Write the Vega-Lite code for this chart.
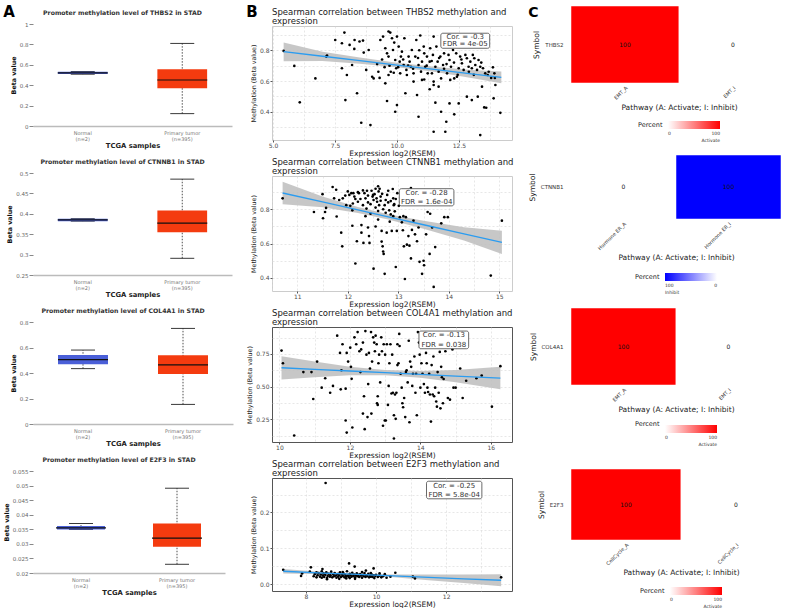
{
  "$schema": "https://vega.github.io/schema/vega-lite/v6.json",
  "background": "#ffffff",
  "padding": {"left": 3, "top": 5, "right": 0, "bottom": 0},
  "config": {
    "font": "DejaVu Sans",
    "view": {"stroke": null},
    "axis": {"labelOverlap": false},
    "legend": {"gradientStrokeWidth": 0, "labelColor": "#333333", "titleColor": "#222222", "layout": {"bottom": {"anchor": "middle"}}}
  },
  "datasets": {
    "boxA": [
      {"gene": "THBS2", "group": "Normal|(n=2)", "min": 0.508, "q1": 0.51, "median": 0.52, "q3": 0.532, "max": 0.535},
      {"gene": "THBS2", "group": "Primary tumor|(n=395)", "min": 0.121, "q1": 0.369, "median": 0.451, "q3": 0.556, "max": 0.81},
      {"gene": "CTNNB1", "group": "Normal|(n=2)", "min": 0.382, "q1": 0.382, "median": 0.385, "q3": 0.388, "max": 0.388},
      {"gene": "CTNNB1", "group": "Primary tumor|(n=395)", "min": 0.291, "q1": 0.355, "median": 0.377, "q3": 0.408, "max": 0.485},
      {"gene": "COL4A1", "group": "Normal|(n=2)", "min": 0.434, "q1": 0.468, "median": 0.505, "q3": 0.541, "max": 0.58},
      {"gene": "COL4A1", "group": "Primary tumor|(n=395)", "min": 0.154, "q1": 0.392, "median": 0.463, "q3": 0.539, "max": 0.75},
      {"gene": "E2F3", "group": "Normal|(n=2)", "min": 0.0349, "q1": 0.0349, "median": 0.0355, "q3": 0.0361, "max": 0.037},
      {"gene": "E2F3", "group": "Primary tumor|(n=395)", "min": 0.023, "q1": 0.029, "median": 0.032, "q3": 0.037, "max": 0.0491}
    ],
    "heat": [
      {"symbol": "THBS2", "pathway": "EMT_A", "percent": 100},
      {"symbol": "THBS2", "pathway": "EMT_I", "percent": 0},
      {"symbol": "CTNNB1", "pathway": "Hormone ER_A", "percent": 0},
      {"symbol": "CTNNB1", "pathway": "Hormone ER_I", "percent": 100},
      {"symbol": "COL4A1", "pathway": "EMT_A", "percent": 100},
      {"symbol": "COL4A1", "pathway": "EMT_I", "percent": 0},
      {"symbol": "E2F3", "pathway": "CellCycle_A", "percent": 100},
      {"symbol": "E2F3", "pathway": "CellCycle_I", "percent": 0}
    ],
    "fit1": [
      {"x": 5.43, "fit": 0.791, "lo": 0.728, "hi": 0.85},
      {"x": 7.0, "fit": 0.761, "lo": 0.731, "hi": 0.79},
      {"x": 8.5, "fit": 0.733, "lo": 0.713, "hi": 0.753},
      {"x": 10.0, "fit": 0.704, "lo": 0.69, "hi": 0.718},
      {"x": 11.5, "fit": 0.676, "lo": 0.66, "hi": 0.692},
      {"x": 13.0, "fit": 0.647, "lo": 0.62, "hi": 0.672},
      {"x": 14.21, "fit": 0.624, "lo": 0.585, "hi": 0.662}
    ],
    "fit2": [
      {"x": 10.71, "fit": 0.895, "lo": 0.83, "hi": 0.96},
      {"x": 11.5, "fit": 0.843, "lo": 0.812, "hi": 0.874},
      {"x": 12.2, "fit": 0.796, "lo": 0.779, "hi": 0.813},
      {"x": 12.8, "fit": 0.756, "lo": 0.741, "hi": 0.771},
      {"x": 13.5, "fit": 0.71, "lo": 0.687, "hi": 0.733},
      {"x": 14.3, "fit": 0.657, "lo": 0.618, "hi": 0.696},
      {"x": 15.05, "fit": 0.607, "lo": 0.54, "hi": 0.675}
    ],
    "fit3": [
      {"x": 10.06, "fit": 0.645, "lo": 0.556, "hi": 0.733},
      {"x": 11.0, "fit": 0.633, "lo": 0.573, "hi": 0.693},
      {"x": 12.0, "fit": 0.62, "lo": 0.588, "hi": 0.652},
      {"x": 13.0, "fit": 0.607, "lo": 0.587, "hi": 0.627},
      {"x": 14.0, "fit": 0.594, "lo": 0.568, "hi": 0.62},
      {"x": 15.0, "fit": 0.581, "lo": 0.535, "hi": 0.627},
      {"x": 16.27, "fit": 0.565, "lo": 0.48, "hi": 0.652}
    ],
    "fit4": [
      {"x": 7.35, "fit": 0.036, "lo": 0.03, "hi": 0.042},
      {"x": 8.5, "fit": 0.031, "lo": 0.028, "hi": 0.034},
      {"x": 9.3, "fit": 0.028, "lo": 0.026, "hi": 0.03},
      {"x": 10.5, "fit": 0.023, "lo": 0.019, "hi": 0.027},
      {"x": 11.5, "fit": 0.019, "lo": 0.011, "hi": 0.027},
      {"x": 12.5, "fit": 0.015, "lo": 0.003, "hi": 0.027},
      {"x": 13.57, "fit": 0.011, "lo": -0.006, "hi": 0.028}
    ],
    "pts1": [
      {"x": 5.43, "y": 0.796}, {"x": 5.86, "y": 0.698}, {"x": 6.08, "y": 0.461}, {"x": 6.71, "y": 0.617}, {"x": 7.15, "y": 0.759}, {"x": 7.18, "y": 0.766},
      {"x": 7.51, "y": 0.867}, {"x": 7.78, "y": 0.846}, {"x": 7.88, "y": 0.915}, {"x": 7.78, "y": 0.683}, {"x": 7.98, "y": 0.639}, {"x": 7.92, "y": 0.476},
      {"x": 8.09, "y": 0.835}, {"x": 8.19, "y": 0.704}, {"x": 8.28, "y": 0.809}, {"x": 8.39, "y": 0.52}, {"x": 8.29, "y": 0.867}, {"x": 8.49, "y": 0.857},
      {"x": 8.63, "y": 0.863}, {"x": 8.66, "y": 0.785}, {"x": 8.56, "y": 0.328}, {"x": 8.76, "y": 0.672}, {"x": 8.86, "y": 0.802}, {"x": 8.93, "y": 0.313},
      {"x": 9.0, "y": 0.628}, {"x": 9.06, "y": 0.617}, {"x": 9.33, "y": 0.867}, {"x": 9.44, "y": 0.889}, {"x": 9.53, "y": 0.813}, {"x": 9.6, "y": 0.78},
      {"x": 9.66, "y": 0.759}, {"x": 9.73, "y": 0.915}, {"x": 9.8, "y": 0.878}, {"x": 9.84, "y": 0.802}, {"x": 9.89, "y": 0.85}, {"x": 9.93, "y": 0.737},
      {"x": 9.97, "y": 0.683}, {"x": 10.0, "y": 0.889}, {"x": 10.07, "y": 0.824}, {"x": 10.11, "y": 0.726}, {"x": 10.13, "y": 0.65}, {"x": 10.16, "y": 0.759},
      {"x": 10.2, "y": 0.791}, {"x": 10.27, "y": 0.704}, {"x": 10.3, "y": 0.878}, {"x": 10.38, "y": 0.672}, {"x": 10.4, "y": 0.639}, {"x": 10.47, "y": 0.759},
      {"x": 10.51, "y": 0.726}, {"x": 10.56, "y": 0.693}, {"x": 10.6, "y": 0.802}, {"x": 10.67, "y": 0.65}, {"x": 10.74, "y": 0.759}, {"x": 10.78, "y": 0.867},
      {"x": 10.87, "y": 0.704}, {"x": 10.94, "y": 0.896}, {"x": 10.97, "y": 0.661}, {"x": 11.01, "y": 0.726}, {"x": 11.08, "y": 0.824}, {"x": 11.1, "y": 0.78},
      {"x": 11.14, "y": 0.693}, {"x": 11.21, "y": 0.759}, {"x": 11.24, "y": 0.65}, {"x": 11.32, "y": 0.726}, {"x": 11.34, "y": 0.813}, {"x": 11.41, "y": 0.65},
      {"x": 11.45, "y": 0.77}, {"x": 11.48, "y": 0.889}, {"x": 11.55, "y": 0.693}, {"x": 11.59, "y": 0.824}, {"x": 11.64, "y": 0.726}, {"x": 11.68, "y": 0.661},
      {"x": 11.75, "y": 0.759}, {"x": 11.78, "y": 0.617}, {"x": 11.86, "y": 0.704}, {"x": 11.95, "y": 0.824}, {"x": 12.02, "y": 0.65}, {"x": 12.08, "y": 0.77},
      {"x": 12.12, "y": 0.737}, {"x": 12.18, "y": 0.693}, {"x": 12.26, "y": 0.802}, {"x": 12.31, "y": 0.617}, {"x": 12.39, "y": 0.78}, {"x": 12.42, "y": 0.628},
      {"x": 12.49, "y": 0.683}, {"x": 12.55, "y": 0.759}, {"x": 12.62, "y": 0.715}, {"x": 12.69, "y": 0.672}, {"x": 12.76, "y": 0.77}, {"x": 12.82, "y": 0.748},
      {"x": 12.89, "y": 0.693}, {"x": 12.96, "y": 0.726}, {"x": 13.02, "y": 0.683}, {"x": 13.06, "y": 0.77}, {"x": 13.12, "y": 0.748}, {"x": 13.16, "y": 0.704},
      {"x": 13.23, "y": 0.672}, {"x": 13.29, "y": 0.737}, {"x": 13.36, "y": 0.693}, {"x": 13.47, "y": 0.683}, {"x": 13.56, "y": 0.65}, {"x": 13.66, "y": 0.639},
      {"x": 13.87, "y": 0.689}, {"x": 13.93, "y": 0.65}, {"x": 13.97, "y": 0.574},
      {"x": 9.53, "y": 0.585}, {"x": 9.6, "y": 0.47}, {"x": 10.0, "y": 0.443}, {"x": 9.93, "y": 0.4}, {"x": 10.34, "y": 0.52}, {"x": 10.81, "y": 0.509},
      {"x": 10.87, "y": 0.367}, {"x": 11.32, "y": 0.546}, {"x": 11.48, "y": 0.574}, {"x": 11.55, "y": 0.459}, {"x": 11.48, "y": 0.27}, {"x": 11.68, "y": 0.563},
      {"x": 11.78, "y": 0.4}, {"x": 11.99, "y": 0.335}, {"x": 11.95, "y": 0.27}, {"x": 12.12, "y": 0.454}, {"x": 12.31, "y": 0.383}, {"x": 12.49, "y": 0.454},
      {"x": 12.82, "y": 0.498}, {"x": 13.02, "y": 0.476}, {"x": 13.26, "y": 0.498}, {"x": 13.43, "y": 0.563}, {"x": 13.52, "y": 0.428}, {"x": 13.6, "y": 0.426},
      {"x": 13.36, "y": 0.248}, {"x": 13.9, "y": 0.487}, {"x": 14.17, "y": 0.393},
      {"x": 9.66, "y": 0.922}, {"x": 9.66, "y": 0.639}, {"x": 9.87, "y": 0.654}, {"x": 10.67, "y": 0.596}, {"x": 11.01, "y": 0.607}, {"x": 11.1, "y": 0.61},
      {"x": 11.48, "y": 0.596}, {"x": 12.15, "y": 0.607}, {"x": 9.2, "y": 0.71}, {"x": 9.25, "y": 0.66}, {"x": 9.4, "y": 0.74}, {"x": 9.5, "y": 0.69},
      {"x": 9.7, "y": 0.7}, {"x": 9.75, "y": 0.66}, {"x": 10.05, "y": 0.69}, {"x": 10.25, "y": 0.74}, {"x": 10.45, "y": 0.7}, {"x": 10.65, "y": 0.68},
      {"x": 10.85, "y": 0.75}, {"x": 11.2, "y": 0.7}, {"x": 11.4, "y": 0.73}, {"x": 11.7, "y": 0.75}, {"x": 11.9, "y": 0.68}, {"x": 12.0, "y": 0.71},
      {"x": 12.3, "y": 0.72}, {"x": 12.6, "y": 0.74}, {"x": 12.9, "y": 0.66}, {"x": 13.1, "y": 0.64}, {"x": 13.4, "y": 0.72}, {"x": 13.7, "y": 0.66},
      {"x": 13.8, "y": 0.62}, {"x": 12.45, "y": 0.64}, {"x": 11.9, "y": 0.78}, {"x": 10.9, "y": 0.8}, {"x": 9.3, "y": 0.62}, {"x": 13.95, "y": 0.62}
    ],
    "pts2": [
      {"x": 10.71, "y": 0.864}, {"x": 11.33, "y": 0.784}, {"x": 11.5, "y": 0.888}, {"x": 11.51, "y": 0.748}, {"x": 11.55, "y": 0.784}, {"x": 11.57, "y": 0.808},
      {"x": 11.7, "y": 0.93}, {"x": 11.73, "y": 0.864}, {"x": 11.77, "y": 0.914}, {"x": 11.78, "y": 0.758}, {"x": 11.83, "y": 0.854}, {"x": 11.87, "y": 0.664},
      {"x": 11.89, "y": 0.584}, {"x": 11.9, "y": 0.864}, {"x": 11.97, "y": 0.824}, {"x": 12.0, "y": 0.904}, {"x": 12.03, "y": 0.884}, {"x": 12.07, "y": 0.894},
      {"x": 12.09, "y": 0.794}, {"x": 12.1, "y": 0.834}, {"x": 12.11, "y": 0.894}, {"x": 12.13, "y": 0.874}, {"x": 12.09, "y": 0.704}, {"x": 12.15, "y": 0.484},
      {"x": 12.18, "y": 0.614}, {"x": 12.2, "y": 0.844}, {"x": 12.22, "y": 0.894}, {"x": 12.27, "y": 0.708}, {"x": 12.27, "y": 0.664}, {"x": 12.3, "y": 0.824},
      {"x": 12.31, "y": 0.604}, {"x": 12.33, "y": 0.894}, {"x": 12.35, "y": 0.864}, {"x": 12.37, "y": 0.804}, {"x": 12.38, "y": 0.908}, {"x": 12.4, "y": 0.694},
      {"x": 12.42, "y": 0.644}, {"x": 12.43, "y": 0.604}, {"x": 12.45, "y": 0.774}, {"x": 12.47, "y": 0.908}, {"x": 12.49, "y": 0.874}, {"x": 12.5, "y": 0.884},
      {"x": 12.51, "y": 0.854}, {"x": 12.51, "y": 0.454}, {"x": 12.53, "y": 0.888}, {"x": 12.55, "y": 0.92}, {"x": 12.57, "y": 0.864}, {"x": 12.58, "y": 0.844},
      {"x": 12.6, "y": 0.934}, {"x": 12.61, "y": 0.904}, {"x": 12.62, "y": 0.824}, {"x": 12.63, "y": 0.92}, {"x": 12.65, "y": 0.874}, {"x": 12.67, "y": 0.674},
      {"x": 12.67, "y": 0.612}, {"x": 12.69, "y": 0.584}, {"x": 12.7, "y": 0.554}, {"x": 12.71, "y": 0.54}, {"x": 12.73, "y": 0.424}, {"x": 12.73, "y": 0.824},
      {"x": 12.75, "y": 0.854}, {"x": 12.77, "y": 0.664}, {"x": 12.78, "y": 0.884}, {"x": 12.8, "y": 0.908}, {"x": 12.82, "y": 0.794}, {"x": 12.83, "y": 0.728},
      {"x": 12.85, "y": 0.848}, {"x": 12.87, "y": 0.674}, {"x": 12.89, "y": 0.918}, {"x": 12.9, "y": 0.864}, {"x": 12.91, "y": 0.824}, {"x": 12.93, "y": 0.788},
      {"x": 12.95, "y": 0.464}, {"x": 12.97, "y": 0.674}, {"x": 12.98, "y": 0.894}, {"x": 13.01, "y": 0.82}, {"x": 13.03, "y": 0.754}, {"x": 13.07, "y": 0.724},
      {"x": 13.09, "y": 0.678}, {"x": 13.11, "y": 0.584}, {"x": 13.13, "y": 0.394}, {"x": 13.15, "y": 0.754}, {"x": 13.17, "y": 0.594}, {"x": 13.2, "y": 0.644},
      {"x": 13.22, "y": 0.588}, {"x": 13.25, "y": 0.924}, {"x": 13.25, "y": 0.514}, {"x": 13.27, "y": 0.68}, {"x": 13.3, "y": 0.734}, {"x": 13.33, "y": 0.654},
      {"x": 13.37, "y": 0.614}, {"x": 13.4, "y": 0.694}, {"x": 13.42, "y": 0.494}, {"x": 13.47, "y": 0.424}, {"x": 13.5, "y": 0.5}, {"x": 13.51, "y": 0.474},
      {"x": 13.55, "y": 0.654}, {"x": 13.58, "y": 0.784}, {"x": 13.63, "y": 0.774}, {"x": 13.62, "y": 0.54}, {"x": 13.67, "y": 0.694}, {"x": 13.7, "y": 0.348},
      {"x": 13.73, "y": 0.58}, {"x": 13.85, "y": 0.718}, {"x": 13.91, "y": 0.754}, {"x": 13.98, "y": 0.754}, {"x": 14.83, "y": 0.414}, {"x": 15.05, "y": 0.734},
      {"x": 12.25, "y": 0.86}, {"x": 12.3, "y": 0.91}, {"x": 12.4, "y": 0.84}, {"x": 12.45, "y": 0.83}, {"x": 12.55, "y": 0.81}, {"x": 12.6, "y": 0.79},
      {"x": 12.7, "y": 0.8}, {"x": 12.75, "y": 0.78}, {"x": 12.85, "y": 0.77}, {"x": 12.9, "y": 0.76}, {"x": 12.95, "y": 0.86}, {"x": 12.65, "y": 0.85},
      {"x": 12.4, "y": 0.88}, {"x": 12.15, "y": 0.86}, {"x": 12.05, "y": 0.82}, {"x": 11.95, "y": 0.88}, {"x": 12.8, "y": 0.84}, {"x": 12.35, "y": 0.76},
      {"x": 12.6, "y": 0.74}, {"x": 13.05, "y": 0.84}, {"x": 12.55, "y": 0.7}, {"x": 12.2, "y": 0.9}, {"x": 12.68, "y": 0.89}, {"x": 12.92, "y": 0.83},
      {"x": 13.1, "y": 0.76}
    ],
    "pts3": [
      {"x": 10.06, "y": 0.776}, {"x": 10.1, "y": 0.679}, {"x": 10.42, "y": 0.128}, {"x": 10.68, "y": 0.612}, {"x": 10.91, "y": 0.612}, {"x": 10.96, "y": 0.406},
      {"x": 11.07, "y": 0.692}, {"x": 11.2, "y": 0.493}, {"x": 11.3, "y": 0.565}, {"x": 11.44, "y": 0.454}, {"x": 11.52, "y": 0.506}, {"x": 11.64, "y": 0.89},
      {"x": 11.72, "y": 0.758}, {"x": 11.74, "y": 0.48}, {"x": 11.76, "y": 0.626}, {"x": 11.79, "y": 0.824}, {"x": 11.88, "y": 0.485}, {"x": 11.91, "y": 0.758},
      {"x": 11.95, "y": 0.692}, {"x": 12.01, "y": 0.798}, {"x": 12.03, "y": 0.652}, {"x": 12.05, "y": 0.56}, {"x": 11.88, "y": 0.242}, {"x": 11.91, "y": 0.15},
      {"x": 12.07, "y": 0.189}, {"x": 12.13, "y": 0.877}, {"x": 12.18, "y": 0.824}, {"x": 12.22, "y": 0.917}, {"x": 12.27, "y": 0.771}, {"x": 12.3, "y": 0.612},
      {"x": 12.32, "y": 0.785}, {"x": 12.37, "y": 0.837}, {"x": 12.4, "y": 0.427}, {"x": 12.37, "y": 0.295}, {"x": 12.42, "y": 0.176}, {"x": 12.44, "y": 0.925},
      {"x": 12.47, "y": 0.745}, {"x": 12.5, "y": 0.268}, {"x": 12.52, "y": 0.52}, {"x": 12.54, "y": 0.758}, {"x": 12.57, "y": 0.639}, {"x": 12.6, "y": 0.917},
      {"x": 12.61, "y": 0.295}, {"x": 12.63, "y": 0.692}, {"x": 12.66, "y": 0.877}, {"x": 12.69, "y": 0.837}, {"x": 12.71, "y": 0.771}, {"x": 12.73, "y": 0.89},
      {"x": 12.76, "y": 0.824}, {"x": 12.79, "y": 0.427}, {"x": 12.77, "y": 0.374}, {"x": 12.79, "y": 0.361}, {"x": 12.81, "y": 0.679}, {"x": 12.83, "y": 0.745},
      {"x": 12.86, "y": 0.533}, {"x": 12.89, "y": 0.877}, {"x": 12.91, "y": 0.771}, {"x": 12.94, "y": 0.202}, {"x": 12.96, "y": 0.824}, {"x": 12.99, "y": 0.242},
      {"x": 13.0, "y": 0.745}, {"x": 13.02, "y": 0.242}, {"x": 13.05, "y": 0.824}, {"x": 13.08, "y": 0.361}, {"x": 13.1, "y": 0.506}, {"x": 13.12, "y": 0.679},
      {"x": 13.15, "y": 0.824}, {"x": 13.18, "y": 0.448}, {"x": 13.2, "y": 0.745}, {"x": 13.22, "y": 0.454}, {"x": 13.25, "y": 0.282}, {"x": 13.25, "y": 0.105},
      {"x": 13.28, "y": 0.441}, {"x": 13.3, "y": 0.255}, {"x": 13.32, "y": 0.454}, {"x": 13.35, "y": 0.824}, {"x": 13.35, "y": 0.665}, {"x": 13.38, "y": 0.679},
      {"x": 13.4, "y": 0.903}, {"x": 13.41, "y": 0.811}, {"x": 13.44, "y": 0.599}, {"x": 13.47, "y": 0.493}, {"x": 13.49, "y": 0.374}, {"x": 13.51, "y": 0.343},
      {"x": 13.54, "y": 0.414}, {"x": 13.57, "y": 0.268}, {"x": 13.59, "y": 0.612}, {"x": 13.61, "y": 0.626}, {"x": 13.64, "y": 0.533}, {"x": 13.67, "y": 0.851},
      {"x": 13.69, "y": 0.229}, {"x": 13.71, "y": 0.692}, {"x": 13.74, "y": 0.652}, {"x": 13.77, "y": 0.506}, {"x": 13.79, "y": 0.599}, {"x": 13.83, "y": 0.731},
      {"x": 13.86, "y": 0.454}, {"x": 13.88, "y": 0.599}, {"x": 13.9, "y": 0.282}, {"x": 13.93, "y": 0.917}, {"x": 13.96, "y": 0.837}, {"x": 13.98, "y": 0.745},
      {"x": 14.0, "y": 0.493}, {"x": 14.03, "y": 0.679}, {"x": 14.06, "y": 0.599}, {"x": 14.1, "y": 0.52}, {"x": 14.13, "y": 0.454}, {"x": 14.16, "y": 0.758},
      {"x": 14.18, "y": 0.679}, {"x": 14.2, "y": 0.493}, {"x": 14.22, "y": 0.46}, {"x": 14.25, "y": 0.599}, {"x": 14.27, "y": 0.441}, {"x": 14.3, "y": 0.234},
      {"x": 14.32, "y": 0.665}, {"x": 14.35, "y": 0.441}, {"x": 14.37, "y": 0.731}, {"x": 14.39, "y": 0.427}, {"x": 14.42, "y": 0.493}, {"x": 14.45, "y": 0.387},
      {"x": 14.47, "y": 0.348}, {"x": 14.49, "y": 0.612}, {"x": 14.52, "y": 0.454}, {"x": 14.55, "y": 0.766}, {"x": 14.57, "y": 0.335}, {"x": 14.59, "y": 0.652},
      {"x": 14.61, "y": 0.572}, {"x": 14.64, "y": 0.374}, {"x": 14.66, "y": 0.559}, {"x": 14.71, "y": 0.771}, {"x": 14.78, "y": 0.414}, {"x": 14.84, "y": 0.401},
      {"x": 14.91, "y": 0.785}, {"x": 14.94, "y": 0.493}, {"x": 15.0, "y": 0.493}, {"x": 15.13, "y": 0.639}, {"x": 15.2, "y": 0.414}, {"x": 15.3, "y": 0.546},
      {"x": 15.59, "y": 0.565}, {"x": 15.74, "y": 0.586}, {"x": 16.03, "y": 0.348}, {"x": 16.27, "y": 0.657}
    ],
    "pts4": [
      {"x": 8.22, "y": 0.022}, {"x": 8.25, "y": 0.028}, {"x": 8.3, "y": 0.019}, {"x": 8.33, "y": 0.025}, {"x": 8.36, "y": 0.031}, {"x": 8.4, "y": 0.021},
      {"x": 8.42, "y": 0.027}, {"x": 8.45, "y": 0.018}, {"x": 8.48, "y": 0.024}, {"x": 8.5, "y": 0.03}, {"x": 8.52, "y": 0.02}, {"x": 8.55, "y": 0.026},
      {"x": 8.58, "y": 0.033}, {"x": 8.6, "y": 0.017}, {"x": 8.62, "y": 0.023}, {"x": 8.65, "y": 0.029}, {"x": 8.68, "y": 0.021}, {"x": 8.7, "y": 0.025},
      {"x": 8.72, "y": 0.035}, {"x": 8.75, "y": 0.019}, {"x": 8.78, "y": 0.027}, {"x": 8.8, "y": 0.022}, {"x": 8.82, "y": 0.031}, {"x": 8.85, "y": 0.024},
      {"x": 8.87, "y": 0.018}, {"x": 8.9, "y": 0.028}, {"x": 8.92, "y": 0.021}, {"x": 8.95, "y": 0.025}, {"x": 8.97, "y": 0.033}, {"x": 9.0, "y": 0.02},
      {"x": 9.02, "y": 0.027}, {"x": 9.05, "y": 0.023}, {"x": 9.07, "y": 0.03}, {"x": 9.1, "y": 0.019}, {"x": 9.12, "y": 0.026}, {"x": 9.15, "y": 0.022},
      {"x": 9.17, "y": 0.036}, {"x": 9.2, "y": 0.024}, {"x": 9.22, "y": 0.02}, {"x": 9.25, "y": 0.029}, {"x": 9.27, "y": 0.025}, {"x": 9.3, "y": 0.021},
      {"x": 9.32, "y": 0.032}, {"x": 9.35, "y": 0.023}, {"x": 9.37, "y": 0.027}, {"x": 9.4, "y": 0.019}, {"x": 9.42, "y": 0.025}, {"x": 9.45, "y": 0.03},
      {"x": 9.47, "y": 0.022}, {"x": 9.5, "y": 0.026}, {"x": 9.52, "y": 0.02}, {"x": 9.55, "y": 0.028}, {"x": 9.57, "y": 0.024}, {"x": 9.6, "y": 0.018},
      {"x": 9.62, "y": 0.026}, {"x": 9.65, "y": 0.022}, {"x": 9.67, "y": 0.031}, {"x": 9.7, "y": 0.02}, {"x": 9.72, "y": 0.025}, {"x": 9.75, "y": 0.023},
      {"x": 9.78, "y": 0.029}, {"x": 9.8, "y": 0.019}, {"x": 9.83, "y": 0.024}, {"x": 9.85, "y": 0.021}, {"x": 9.88, "y": 0.027}, {"x": 9.9, "y": 0.02},
      {"x": 9.93, "y": 0.025}, {"x": 9.95, "y": 0.017}, {"x": 9.98, "y": 0.023}, {"x": 10.0, "y": 0.026}, {"x": 10.05, "y": 0.02}, {"x": 10.1, "y": 0.024},
      {"x": 10.15, "y": 0.019}, {"x": 10.2, "y": 0.022}, {"x": 10.3, "y": 0.018}, {"x": 10.1, "y": 0.03}, {"x": 9.15, "y": 0.016}, {"x": 9.4, "y": 0.015},
      {"x": 8.6, "y": 0.014}, {"x": 9.05, "y": 0.034}, {"x": 8.3, "y": 0.033}, {"x": 9.6, "y": 0.034}, {"x": 8.95, "y": 0.015}, {"x": 9.25, "y": 0.017},
      {"x": 8.45, "y": 0.036}, {"x": 9.85, "y": 0.031},
      {"x": 7.35, "y": 0.04}, {"x": 7.86, "y": 0.023}, {"x": 7.89, "y": 0.03}, {"x": 8.11, "y": 0.035}, {"x": 8.14, "y": 0.047}, {"x": 8.56, "y": 0.282},
      {"x": 8.47, "y": 0.042}, {"x": 9.23, "y": 0.058}, {"x": 9.39, "y": 0.049}, {"x": 9.93, "y": 0.044}, {"x": 9.71, "y": 0.038}, {"x": 10.55, "y": 0.032},
      {"x": 11.05, "y": 0.021}, {"x": 11.11, "y": 0.016}, {"x": 13.57, "y": 0.019}, {"x": 10.25, "y": 0.028}, {"x": 10.41, "y": 0.021}
    ]
  },
  "columns": 3,
  "align": "none",
  "spacing": 13,
  "concat": [
    {
      "title": {"text": "A", "anchor": "start", "frame": "bounds", "fontSize": 15, "fontWeight": "bold", "color": "#000000", "offset": -14},
      "columns": 1,
      "align": "none",
      "spacing": 2,
      "concat": [
        {"width": 1, "height": 1, "data": {"values": []}, "mark": "point"},
        {
          "columns": 1,
          "align": "none",
          "spacing": 9,
          "concat": [
            {
              "title": {"text": "Promoter methylation level of THBS2 in STAD", "fontSize": 6.2, "fontWeight": "bold", "color": "#333333", "anchor": "middle", "offset": 6, "dx": -10},
              "width": 199, "height": 102,
              "data": {"name": "boxA"},
              "transform": [{"filter": "datum.gene == 'THBS2'"}],
              "encoding": {"x": {"field": "group", "type": "nominal", "sort": ["Normal|(n=2)", "Primary tumor|(n=395)"], "scale": {"paddingInner": 0, "paddingOuter": 0},
                "axis": {"title": "TCGA samples", "labelExpr": "split(datum.label, '|')", "labelAngle": 0, "labelFontSize": 5, "labelColor": "#777777", "labelLineHeight": 6, "ticks": false, "domainColor": "#bbbbbb", "domainWidth": 1.5, "labelPadding": 4, "titleFontSize": 6.8, "titleFontWeight": "bold", "titleColor": "#222222", "titlePadding": 1}}},
              "layer": [
                {"mark": {"type": "rule", "color": "#222222", "strokeDash": [1.5, 1.5], "strokeWidth": 0.8},
                 "encoding": {"y": {"field": "min", "type": "quantitative", "scale": {"domain": [0, 1], "nice": false, "zero": false},
                   "axis": {"title": "Beta value", "values": [0, 0.2, 0.4, 0.6, 0.8, 1], "tickCount": 50, "format": "~g", "domain": false, "grid": false, "tickSize": 4, "tickColor": "#888888", "labelFontSize": 5.5, "labelColor": "#666666", "labelPadding": 1, "labelFlush": false, "labelOverlap": false, "titleFontSize": 6.3, "titleFontWeight": "bold", "titleColor": "#111111", "titlePadding": 3}},
                   "y2": {"field": "max"}}},
                {"mark": {"type": "tick", "color": "#222222", "size": 24, "thickness": 0.9, "opacity": 1}, "encoding": {"y": {"field": "min", "type": "quantitative"}}},
                {"mark": {"type": "tick", "color": "#222222", "size": 24, "thickness": 0.9, "opacity": 1}, "encoding": {"y": {"field": "max", "type": "quantitative"}}},
                {"mark": {"type": "bar", "width": {"band": 0.5}, "opacity": 1}, "encoding": {"y": {"field": "q1", "type": "quantitative"}, "y2": {"field": "q3"}, "color": {"field": "group", "type": "nominal", "scale": {"range": ["#4a5fd8", "#f43b0f"]}, "legend": null}}},
                {"mark": {"type": "tick", "color": "#111111", "size": 50, "thickness": 1.2, "opacity": 1}, "encoding": {"y": {"field": "median", "type": "quantitative"}}}
              ]
            },
            {
              "title": {"text": "Promoter methylation level of CTNNB1 in STAD", "fontSize": 6.2, "fontWeight": "bold", "color": "#333333", "anchor": "middle", "offset": 6, "dx": -10},
              "width": 199, "height": 102,
              "data": {"name": "boxA"},
              "transform": [{"filter": "datum.gene == 'CTNNB1'"}],
              "encoding": {"x": {"field": "group", "type": "nominal", "sort": ["Normal|(n=2)", "Primary tumor|(n=395)"], "scale": {"paddingInner": 0, "paddingOuter": 0},
                "axis": {"title": "TCGA samples", "labelExpr": "split(datum.label, '|')", "labelAngle": 0, "labelFontSize": 5, "labelColor": "#777777", "labelLineHeight": 6, "ticks": false, "domainColor": "#bbbbbb", "domainWidth": 1.5, "labelPadding": 4, "titleFontSize": 6.8, "titleFontWeight": "bold", "titleColor": "#222222", "titlePadding": 1}}},
              "layer": [
                {"mark": {"type": "rule", "color": "#222222", "strokeDash": [1.5, 1.5], "strokeWidth": 0.8},
                 "encoding": {"y": {"field": "min", "type": "quantitative", "scale": {"domain": [0.25, 0.5], "nice": false, "zero": false},
                   "axis": {"title": "Beta value", "values": [0.25, 0.3, 0.35, 0.4, 0.45, 0.5], "tickCount": 50, "format": "~g", "domain": false, "grid": false, "tickSize": 4, "tickColor": "#888888", "labelFontSize": 5.5, "labelColor": "#666666", "labelPadding": 1, "labelFlush": false, "labelOverlap": false, "titleFontSize": 6.3, "titleFontWeight": "bold", "titleColor": "#111111", "titlePadding": 3}},
                   "y2": {"field": "max"}}},
                {"mark": {"type": "tick", "color": "#222222", "size": 24, "thickness": 0.9, "opacity": 1}, "encoding": {"y": {"field": "min", "type": "quantitative"}}},
                {"mark": {"type": "tick", "color": "#222222", "size": 24, "thickness": 0.9, "opacity": 1}, "encoding": {"y": {"field": "max", "type": "quantitative"}}},
                {"mark": {"type": "bar", "width": {"band": 0.5}, "opacity": 1}, "encoding": {"y": {"field": "q1", "type": "quantitative"}, "y2": {"field": "q3"}, "color": {"field": "group", "type": "nominal", "scale": {"range": ["#4a5fd8", "#f43b0f"]}, "legend": null}}},
                {"mark": {"type": "tick", "color": "#111111", "size": 50, "thickness": 1.2, "opacity": 1}, "encoding": {"y": {"field": "median", "type": "quantitative"}}}
              ]
            },
            {
              "title": {"text": "Promoter methylation level of COL4A1 in STAD", "fontSize": 6.2, "fontWeight": "bold", "color": "#333333", "anchor": "middle", "offset": 6, "dx": -10},
              "width": 200, "height": 102,
              "data": {"name": "boxA"},
              "transform": [{"filter": "datum.gene == 'COL4A1'"}],
              "encoding": {"x": {"field": "group", "type": "nominal", "sort": ["Normal|(n=2)", "Primary tumor|(n=395)"], "scale": {"paddingInner": 0, "paddingOuter": 0},
                "axis": {"title": "TCGA samples", "labelExpr": "split(datum.label, '|')", "labelAngle": 0, "labelFontSize": 5, "labelColor": "#777777", "labelLineHeight": 6, "ticks": false, "domainColor": "#bbbbbb", "domainWidth": 1.5, "labelPadding": 4, "titleFontSize": 6.8, "titleFontWeight": "bold", "titleColor": "#222222", "titlePadding": 1}}},
              "layer": [
                {"mark": {"type": "rule", "color": "#222222", "strokeDash": [1.5, 1.5], "strokeWidth": 0.8},
                 "encoding": {"y": {"field": "min", "type": "quantitative", "scale": {"domain": [0, 0.8], "nice": false, "zero": false},
                   "axis": {"title": "Beta value", "values": [0, 0.2, 0.4, 0.6, 0.8], "tickCount": 50, "format": "~g", "domain": false, "grid": false, "tickSize": 4, "tickColor": "#888888", "labelFontSize": 5.5, "labelColor": "#666666", "labelPadding": 1, "labelFlush": false, "labelOverlap": false, "titleFontSize": 6.3, "titleFontWeight": "bold", "titleColor": "#111111", "titlePadding": 3}},
                   "y2": {"field": "max"}}},
                {"mark": {"type": "tick", "color": "#222222", "size": 24, "thickness": 0.9, "opacity": 1}, "encoding": {"y": {"field": "min", "type": "quantitative"}}},
                {"mark": {"type": "tick", "color": "#222222", "size": 24, "thickness": 0.9, "opacity": 1}, "encoding": {"y": {"field": "max", "type": "quantitative"}}},
                {"mark": {"type": "bar", "width": {"band": 0.5}, "opacity": 1}, "encoding": {"y": {"field": "q1", "type": "quantitative"}, "y2": {"field": "q3"}, "color": {"field": "group", "type": "nominal", "scale": {"range": ["#4a5fd8", "#f43b0f"]}, "legend": null}}},
                {"mark": {"type": "tick", "color": "#111111", "size": 50, "thickness": 1.2, "opacity": 1}, "encoding": {"y": {"field": "median", "type": "quantitative"}}}
              ]
            },
            {
              "title": {"text": "Promoter methylation level of E2F3 in STAD", "fontSize": 6.2, "fontWeight": "bold", "color": "#333333", "anchor": "middle", "offset": 6, "dx": -10},
              "width": 192, "height": 102,
              "data": {"name": "boxA"},
              "transform": [{"filter": "datum.gene == 'E2F3'"}],
              "encoding": {"x": {"field": "group", "type": "nominal", "sort": ["Normal|(n=2)", "Primary tumor|(n=395)"], "scale": {"paddingInner": 0, "paddingOuter": 0},
                "axis": {"title": "TCGA samples", "labelExpr": "split(datum.label, '|')", "labelAngle": 0, "labelFontSize": 5, "labelColor": "#777777", "labelLineHeight": 6, "ticks": false, "domainColor": "#bbbbbb", "domainWidth": 1.5, "labelPadding": 4, "titleFontSize": 6.8, "titleFontWeight": "bold", "titleColor": "#222222", "titlePadding": 1}}},
              "layer": [
                {"mark": {"type": "rule", "color": "#222222", "strokeDash": [1.5, 1.5], "strokeWidth": 0.8},
                 "encoding": {"y": {"field": "min", "type": "quantitative", "scale": {"domain": [0.02, 0.055], "nice": false, "zero": false},
                   "axis": {"title": "Beta value", "values": [0.02, 0.025, 0.03, 0.035, 0.04, 0.045, 0.05, 0.055], "tickCount": 50, "format": "~g", "domain": false, "grid": false, "tickSize": 4, "tickColor": "#888888", "labelFontSize": 5.5, "labelColor": "#666666", "labelPadding": 1, "labelFlush": false, "labelOverlap": false, "titleFontSize": 6.3, "titleFontWeight": "bold", "titleColor": "#111111", "titlePadding": 3}},
                   "y2": {"field": "max"}}},
                {"mark": {"type": "tick", "color": "#222222", "size": 24, "thickness": 0.9, "opacity": 1}, "encoding": {"y": {"field": "min", "type": "quantitative"}}},
                {"mark": {"type": "tick", "color": "#222222", "size": 24, "thickness": 0.9, "opacity": 1}, "encoding": {"y": {"field": "max", "type": "quantitative"}}},
                {"mark": {"type": "bar", "width": {"band": 0.5}, "opacity": 1}, "encoding": {"y": {"field": "q1", "type": "quantitative"}, "y2": {"field": "q3"}, "color": {"field": "group", "type": "nominal", "scale": {"range": ["#4a5fd8", "#f43b0f"]}, "legend": null}}},
                {"mark": {"type": "tick", "color": "#111111", "size": 50, "thickness": 1.2, "opacity": 1}, "encoding": {"y": {"field": "median", "type": "quantitative"}}}
              ]
            }
          ]
        }
      ]
    },
    {
      "title": {"text": "B", "anchor": "start", "frame": "bounds", "fontSize": 15, "fontWeight": "bold", "color": "#000000", "offset": -14},
      "spacing": 0,
      "vconcat": [
        {"width": 1, "height": 1, "data": {"values": []}, "mark": "point"},
        {
          "title": {"text": ["Spearman correlation between THBS2 methylation and", "expression"], "anchor": "start", "frame": "group", "fontSize": 8.5, "fontWeight": "normal", "color": "#1a1a1a", "offset": 1, "lineHeight": 8.5},
          "width": 240, "height": 114,
          "view": {"stroke": "#cccccc"},
          "layer": [
            {"data": {"name": "fit1"}, "mark": {"type": "area", "color": "#bdbdbd", "opacity": 0.85}, "encoding": {"x": {"field": "x", "type": "quantitative"}, "y": {"field": "lo", "type": "quantitative"}, "y2": {"field": "hi"}}},
            {"data": {"name": "pts1"}, "mark": {"type": "circle", "size": 7, "color": "#000000", "opacity": 1},
             "encoding": {
               "x": {"field": "x", "type": "quantitative", "scale": {"domain": [4.96, 14.64], "nice": false, "zero": false},
                 "axis": {"title": "Expression log2(RSEM)", "values": [5, 6.25, 7.5, 8.75, 10, 11.25, 12.5, 13.75], "tickCount": 50, "labelExpr": "abs(datum.value / 2.5 - round(datum.value / 2.5)) < 0.01 ? format(datum.value, '.1f') : ''", "tickColor": {"condition": {"test": "abs(datum.value / 2.5 - round(datum.value / 2.5)) > 0.01", "value": "transparent"}, "value": "#555555"}, "grid": true, "gridColor": "#d6d6d6", "gridDash": [2, 2], "gridWidth": 0.6, "domain": false, "tickSize": 2, "labelFontSize": 6, "labelColor": "#4d4d4d", "labelPadding": 0, "labelFlush": false, "labelOverlap": false, "titleFontSize": 7.5, "titleFontWeight": "normal", "titleColor": "#1a1a1a", "titlePadding": 1}},
               "y": {"field": "y", "type": "quantitative", "scale": {"domain": [0.216, 0.958], "nice": false, "zero": false},
                 "axis": {"title": "Methylation (Beta value)", "values": [0.3, 0.4, 0.5, 0.6, 0.7, 0.8, 0.9], "tickCount": 50, "labelExpr": "abs(datum.value / 0.2 - round(datum.value / 0.2)) < 0.01 ? format(datum.value, '.1f') : ''", "tickColor": {"condition": {"test": "abs(datum.value / 0.2 - round(datum.value / 0.2)) > 0.01", "value": "transparent"}, "value": "#555555"}, "grid": true, "gridColor": "#d6d6d6", "gridDash": [2, 2], "gridWidth": 0.6, "domain": false, "tickSize": 2, "labelFontSize": 6, "labelColor": "#4d4d4d", "labelPadding": 1, "labelFlush": false, "labelOverlap": false, "titleFontSize": 6.3, "titleFontWeight": "normal", "titleColor": "#1a1a1a", "titlePadding": 3}}}},
            {"data": {"name": "fit1"}, "mark": {"type": "line", "color": "#2b9cf0", "strokeWidth": 1.3}, "encoding": {"x": {"field": "x", "type": "quantitative"}, "y": {"field": "fit", "type": "quantitative"}}},
            {"data": {"values": [{}]}, "mark": {"type": "rect", "fill": "#ffffff", "stroke": "#444444", "strokeWidth": 0.8, "cornerRadius": 2}, "encoding": {"x": {"datum": 11.77}, "x2": {"datum": 13.74}, "y": {"datum": 0.911}, "y2": {"datum": 0.813}}},
            {"data": {"values": [{}]}, "mark": {"type": "text", "fontSize": 7, "color": "#333333"}, "encoding": {"x": {"datum": 12.755}, "y": {"datum": 0.886}, "text": {"value": "Cor. = -0.3"}}},
            {"data": {"values": [{}]}, "mark": {"type": "text", "fontSize": 7, "color": "#333333"}, "encoding": {"x": {"datum": 12.755}, "y": {"datum": 0.84}, "text": {"value": "FDR = 4e-05"}}}
          ]
        },
        {
          "title": {"text": ["Spearman correlation between CTNNB1 methylation and", "expression"], "anchor": "start", "frame": "group", "fontSize": 8.5, "fontWeight": "normal", "color": "#1a1a1a", "offset": 1, "lineHeight": 8.5},
          "width": 240, "height": 115,
          "view": {"stroke": "#cccccc"},
          "layer": [
            {"data": {"name": "fit2"}, "mark": {"type": "area", "color": "#bdbdbd", "opacity": 0.85}, "encoding": {"x": {"field": "x", "type": "quantitative"}, "y": {"field": "lo", "type": "quantitative"}, "y2": {"field": "hi"}}},
            {"data": {"name": "pts2"}, "mark": {"type": "circle", "size": 7, "color": "#000000", "opacity": 1},
             "encoding": {
               "x": {"field": "x", "type": "quantitative", "scale": {"domain": [10.5, 15.25], "nice": false, "zero": false},
                 "axis": {"title": "Expression log2(RSEM)", "values": [10.5, 11, 11.5, 12, 12.5, 13, 13.5, 14, 14.5, 15], "tickCount": 50, "labelExpr": "abs(datum.value - round(datum.value)) < 0.01 ? format(datum.value, 'd') : ''", "tickColor": {"condition": {"test": "abs(datum.value - round(datum.value)) > 0.01", "value": "transparent"}, "value": "#555555"}, "grid": true, "gridColor": "#d6d6d6", "gridDash": [2, 2], "gridWidth": 0.6, "domain": false, "tickSize": 2, "labelFontSize": 6, "labelColor": "#4d4d4d", "labelPadding": 0, "labelFlush": false, "labelOverlap": false, "titleFontSize": 7.5, "titleFontWeight": "normal", "titleColor": "#1a1a1a", "titlePadding": 1}},
               "y": {"field": "y", "type": "quantitative", "scale": {"domain": [0.324, 0.994], "nice": false, "zero": false},
                 "axis": {"title": "Methylation (Beta value)", "values": [0.4, 0.5, 0.6, 0.7, 0.8, 0.9], "tickCount": 50, "labelExpr": "abs(datum.value / 0.2 - round(datum.value / 0.2)) < 0.01 ? format(datum.value, '.1f') : ''", "tickColor": {"condition": {"test": "abs(datum.value / 0.2 - round(datum.value / 0.2)) > 0.01", "value": "transparent"}, "value": "#555555"}, "grid": true, "gridColor": "#d6d6d6", "gridDash": [2, 2], "gridWidth": 0.6, "domain": false, "tickSize": 2, "labelFontSize": 6, "labelColor": "#4d4d4d", "labelPadding": 1, "labelFlush": false, "labelOverlap": false, "titleFontSize": 6.3, "titleFontWeight": "normal", "titleColor": "#1a1a1a", "titlePadding": 3}}}},
            {"data": {"name": "fit2"}, "mark": {"type": "line", "color": "#2b9cf0", "strokeWidth": 1.3}, "encoding": {"x": {"field": "x", "type": "quantitative"}, "y": {"field": "fit", "type": "quantitative"}}},
            {"data": {"values": [{}]}, "mark": {"type": "rect", "fill": "#ffffff", "stroke": "#444444", "strokeWidth": 0.8, "cornerRadius": 2}, "encoding": {"x": {"datum": 13.02}, "x2": {"datum": 14.1}, "y": {"datum": 0.92}, "y2": {"datum": 0.82}}},
            {"data": {"values": [{}]}, "mark": {"type": "text", "fontSize": 7, "color": "#333333"}, "encoding": {"x": {"datum": 13.56}, "y": {"datum": 0.895}, "text": {"value": "Cor. = -0.28"}}},
            {"data": {"values": [{}]}, "mark": {"type": "text", "fontSize": 7, "color": "#333333"}, "encoding": {"x": {"datum": 13.56}, "y": {"datum": 0.845}, "text": {"value": "FDR = 1.6e-04"}}}
          ]
        },
        {
          "title": {"text": ["Spearman correlation between COL4A1 methylation and", "expression"], "anchor": "start", "frame": "group", "fontSize": 8.5, "fontWeight": "normal", "color": "#1a1a1a", "offset": 1, "lineHeight": 8.5},
          "width": 240, "height": 115,
          "view": {"stroke": "#555555"},
          "layer": [
            {"data": {"name": "fit3"}, "mark": {"type": "area", "color": "#bdbdbd", "opacity": 0.85}, "encoding": {"x": {"field": "x", "type": "quantitative"}, "y": {"field": "lo", "type": "quantitative"}, "y2": {"field": "hi"}}},
            {"data": {"name": "pts3"}, "mark": {"type": "circle", "size": 7, "color": "#000000", "opacity": 1},
             "encoding": {
               "x": {"field": "x", "type": "quantitative", "scale": {"domain": [9.79, 16.6], "nice": false, "zero": false},
                 "axis": {"title": "Expression log2(RSEM)", "values": [10, 11, 12, 13, 14, 15, 16], "tickCount": 50, "labelExpr": "abs(datum.value / 2 - round(datum.value / 2)) < 0.01 ? format(datum.value, 'd') : ''", "tickColor": {"condition": {"test": "abs(datum.value / 2 - round(datum.value / 2)) > 0.01", "value": "transparent"}, "value": "#555555"}, "grid": true, "gridColor": "#d6d6d6", "gridDash": [2, 2], "gridWidth": 0.6, "domain": false, "tickSize": 2, "labelFontSize": 6, "labelColor": "#4d4d4d", "labelPadding": 0, "labelFlush": false, "labelOverlap": false, "titleFontSize": 7.5, "titleFontWeight": "normal", "titleColor": "#1a1a1a", "titlePadding": 1}},
               "y": {"field": "y", "type": "quantitative", "scale": {"domain": [0.078, 0.956], "nice": false, "zero": false},
                 "axis": {"title": "Methylation (Beta value)", "values": [0.125, 0.25, 0.375, 0.5, 0.625, 0.75, 0.875], "tickCount": 50, "labelExpr": "abs(datum.value / 0.25 - round(datum.value / 0.25)) < 0.01 ? format(datum.value, '.2f') : ''", "tickColor": {"condition": {"test": "abs(datum.value / 0.25 - round(datum.value / 0.25)) > 0.01", "value": "transparent"}, "value": "#555555"}, "grid": true, "gridColor": "#d6d6d6", "gridDash": [2, 2], "gridWidth": 0.6, "domain": false, "tickSize": 2, "labelFontSize": 6, "labelColor": "#4d4d4d", "labelPadding": 1, "labelFlush": false, "labelOverlap": false, "titleFontSize": 6.3, "titleFontWeight": "normal", "titleColor": "#1a1a1a", "titlePadding": 3}}}},
            {"data": {"name": "fit3"}, "mark": {"type": "line", "color": "#2b9cf0", "strokeWidth": 1.3}, "encoding": {"x": {"field": "x", "type": "quantitative"}, "y": {"field": "fit", "type": "quantitative"}}},
            {"data": {"values": [{}]}, "mark": {"type": "rect", "fill": "#ffffff", "stroke": "#444444", "strokeWidth": 0.8, "cornerRadius": 2}, "encoding": {"x": {"datum": 13.96}, "x2": {"datum": 15.37}, "y": {"datum": 0.925}, "y2": {"datum": 0.79}}},
            {"data": {"values": [{}]}, "mark": {"type": "text", "fontSize": 7, "color": "#333333"}, "encoding": {"x": {"datum": 14.665}, "y": {"datum": 0.892}, "text": {"value": "Cor. = -0.13"}}},
            {"data": {"values": [{}]}, "mark": {"type": "text", "fontSize": 7, "color": "#333333"}, "encoding": {"x": {"datum": 14.665}, "y": {"datum": 0.822}, "text": {"value": "FDR = 0.038"}}}
          ]
        },
        {
          "title": {"text": ["Spearman correlation between E2F3 methylation and", "expression"], "anchor": "start", "frame": "group", "fontSize": 8.5, "fontWeight": "normal", "color": "#1a1a1a", "offset": 1, "lineHeight": 8.5},
          "width": 240, "height": 113,
          "view": {"stroke": "#555555"},
          "layer": [
            {"data": {"name": "fit4"}, "mark": {"type": "area", "color": "#bdbdbd", "opacity": 0.85}, "encoding": {"x": {"field": "x", "type": "quantitative"}, "y": {"field": "lo", "type": "quantitative"}, "y2": {"field": "hi"}}},
            {"data": {"name": "pts4"}, "mark": {"type": "circle", "size": 7, "color": "#000000", "opacity": 1},
             "encoding": {
               "x": {"field": "x", "type": "quantitative", "scale": {"domain": [7.03, 13.88], "nice": false, "zero": false},
                 "axis": {"title": "Expression log2(RSEM)", "values": [8, 9, 10, 11, 12, 13], "tickCount": 50, "labelExpr": "abs(datum.value / 2 - round(datum.value / 2)) < 0.01 ? format(datum.value, 'd') : ''", "tickColor": {"condition": {"test": "abs(datum.value / 2 - round(datum.value / 2)) > 0.01", "value": "transparent"}, "value": "#555555"}, "grid": true, "gridColor": "#d6d6d6", "gridDash": [2, 2], "gridWidth": 0.6, "domain": false, "tickSize": 2, "labelFontSize": 6, "labelColor": "#4d4d4d", "labelPadding": 0, "labelFlush": false, "labelOverlap": false, "titleFontSize": 7.5, "titleFontWeight": "normal", "titleColor": "#1a1a1a", "titlePadding": 1}},
               "y": {"field": "y", "type": "quantitative", "scale": {"domain": [-0.019, 0.296], "nice": false, "zero": false},
                 "axis": {"title": "Methylation (Beta value)", "values": [0, 0.05, 0.1, 0.15, 0.2, 0.25], "tickCount": 50, "labelExpr": "abs(datum.value / 0.1 - round(datum.value / 0.1)) < 0.01 ? format(datum.value, '.1f') : ''", "tickColor": {"condition": {"test": "abs(datum.value / 0.1 - round(datum.value / 0.1)) > 0.01", "value": "transparent"}, "value": "#555555"}, "grid": true, "gridColor": "#d6d6d6", "gridDash": [2, 2], "gridWidth": 0.6, "domain": false, "tickSize": 2, "labelFontSize": 6, "labelColor": "#4d4d4d", "labelPadding": 1, "labelFlush": false, "labelOverlap": false, "titleFontSize": 6.3, "titleFontWeight": "normal", "titleColor": "#1a1a1a", "titlePadding": 3}}}},
            {"data": {"name": "fit4"}, "mark": {"type": "line", "color": "#2b9cf0", "strokeWidth": 1.3}, "encoding": {"x": {"field": "x", "type": "quantitative"}, "y": {"field": "fit", "type": "quantitative"}}},
            {"data": {"values": [{}]}, "mark": {"type": "rect", "fill": "#ffffff", "stroke": "#444444", "strokeWidth": 0.8, "cornerRadius": 2}, "encoding": {"x": {"datum": 11.44}, "x2": {"datum": 13.02}, "y": {"datum": 0.287}, "y2": {"datum": 0.238}}},
            {"data": {"values": [{}]}, "mark": {"type": "text", "fontSize": 7, "color": "#333333"}, "encoding": {"x": {"datum": 12.23}, "y": {"datum": 0.275}, "text": {"value": "Cor. = -0.25"}}},
            {"data": {"values": [{}]}, "mark": {"type": "text", "fontSize": 7, "color": "#333333"}, "encoding": {"x": {"datum": 12.23}, "y": {"datum": 0.25}, "text": {"value": "FDR = 5.8e-04"}}}
          ]
        }
      ]
    },
    {
      "title": {"text": "C", "anchor": "start", "frame": "bounds", "fontSize": 14, "fontWeight": "bold", "color": "#000000", "offset": -14},
      "columns": 1,
      "align": "none",
      "spacing": 12,
      "resolve": {"scale": {"color": "independent"}, "legend": {"color": "independent"}},
      "concat": [
        {
          "width": 216, "height": 77,
          "data": {"name": "heat"},
          "transform": [{"filter": "datum.symbol == 'THBS2'"}],
          "encoding": {
            "x": {"field": "pathway", "type": "nominal", "sort": null, "scale": {"paddingInner": 0, "paddingOuter": 0}, "axis": {"title": "Pathway (A: Activate; I: Inhibit)", "labelAngle": -45, "labelFontSize": 5, "labelColor": "#333333", "ticks": false, "domain": false, "labelPadding": 2, "titleFontSize": 7.5, "titleFontWeight": "normal", "titleColor": "#222222", "titlePadding": 3}},
            "y": {"field": "symbol", "type": "nominal", "axis": {"title": "Symbol", "labelFontSize": 5.5, "labelColor": "#333333", "ticks": false, "domain": false, "labelPadding": 8, "titleFontSize": 7.5, "titleFontWeight": "normal", "titleColor": "#222222", "titlePadding": 4}}
          },
          "layer": [
            {"mark": {"type": "rect", "stroke": "#ffffff", "strokeWidth": 0.5}, "encoding": {"color": {"field": "percent", "type": "quantitative", "scale": {"domain": [0, 100], "range": ["#ffffff", "#ff0000"], "interpolate": "rgb"}, "legend": {"title": "Percent", "orient": "bottom", "direction": "horizontal", "titleOrient": "left", "gradientLength": 52, "gradientThickness": 8, "values": [0, 100], "labelExpr": "datum.value == 100 ? ['100', 'Activate'] : datum.label", "labelFontSize": 4.5, "titleFontSize": 6.5, "titleFontWeight": "normal", "offset": 10}}}},
            {"mark": {"type": "text", "fontSize": 6, "color": "#111111"}, "encoding": {"text": {"field": "percent", "type": "quantitative"}}}
          ]
        },
        {
          "width": 210, "height": 64,
          "data": {"name": "heat"},
          "transform": [{"filter": "datum.symbol == 'CTNNB1'"}],
          "encoding": {
            "x": {"field": "pathway", "type": "nominal", "sort": null, "scale": {"paddingInner": 0, "paddingOuter": 0}, "axis": {"title": "Pathway (A: Activate; I: Inhibit)", "labelAngle": -45, "labelFontSize": 5, "labelColor": "#333333", "ticks": false, "domain": false, "labelPadding": 2, "titleFontSize": 7.5, "titleFontWeight": "normal", "titleColor": "#222222", "titlePadding": 3}},
            "y": {"field": "symbol", "type": "nominal", "axis": {"title": "Symbol", "labelFontSize": 5.5, "labelColor": "#333333", "ticks": false, "domain": false, "labelPadding": 8, "titleFontSize": 7.5, "titleFontWeight": "normal", "titleColor": "#222222", "titlePadding": 4}}
          },
          "layer": [
            {"mark": {"type": "rect", "stroke": "#ffffff", "strokeWidth": 0.5}, "encoding": {"color": {"field": "percent", "type": "quantitative", "scale": {"domain": [100, 0], "range": ["#0000ff", "#ffffff"], "interpolate": "rgb"}, "legend": {"title": "Percent", "orient": "bottom", "direction": "horizontal", "titleOrient": "left", "gradientLength": 52, "gradientThickness": 8, "values": [100, 0], "labelExpr": "datum.value == 100 ? ['100', 'Inhibit'] : datum.label", "labelFontSize": 4.5, "titleFontSize": 6.5, "titleFontWeight": "normal", "offset": 10, "padding": 1}}}},
            {"mark": {"type": "text", "fontSize": 6, "color": "#111111"}, "encoding": {"text": {"field": "percent", "type": "quantitative"}}}
          ]
        },
        {
          "width": 210, "height": 77,
          "data": {"name": "heat"},
          "transform": [{"filter": "datum.symbol == 'COL4A1'"}],
          "encoding": {
            "x": {"field": "pathway", "type": "nominal", "sort": null, "scale": {"paddingInner": 0, "paddingOuter": 0}, "axis": {"title": "Pathway (A: Activate; I: Inhibit)", "labelAngle": -45, "labelFontSize": 5, "labelColor": "#333333", "ticks": false, "domain": false, "labelPadding": 2, "titleFontSize": 7.5, "titleFontWeight": "normal", "titleColor": "#222222", "titlePadding": 3}},
            "y": {"field": "symbol", "type": "nominal", "axis": {"title": "Symbol", "labelFontSize": 5.5, "labelColor": "#333333", "ticks": false, "domain": false, "labelPadding": 8, "titleFontSize": 7.5, "titleFontWeight": "normal", "titleColor": "#222222", "titlePadding": 4}}
          },
          "layer": [
            {"mark": {"type": "rect", "stroke": "#ffffff", "strokeWidth": 0.5}, "encoding": {"color": {"field": "percent", "type": "quantitative", "scale": {"domain": [0, 100], "range": ["#ffffff", "#ff0000"], "interpolate": "rgb"}, "legend": {"title": "Percent", "orient": "bottom", "direction": "horizontal", "titleOrient": "left", "gradientLength": 52, "gradientThickness": 8, "values": [0, 100], "labelExpr": "datum.value == 100 ? ['100', 'Activate'] : datum.label", "labelFontSize": 4.5, "titleFontSize": 6.5, "titleFontWeight": "normal", "offset": 2, "padding": 10}}}},
            {"mark": {"type": "text", "fontSize": 6, "color": "#111111"}, "encoding": {"text": {"field": "percent", "type": "quantitative"}}}
          ]
        },
        {
          "width": 220, "height": 71,
          "data": {"name": "heat"},
          "transform": [{"filter": "datum.symbol == 'E2F3'"}],
          "encoding": {
            "x": {"field": "pathway", "type": "nominal", "sort": null, "scale": {"paddingInner": 0, "paddingOuter": 0}, "axis": {"title": "Pathway (A: Activate; I: Inhibit)", "labelAngle": -45, "labelFontSize": 5, "labelColor": "#333333", "ticks": false, "domain": false, "labelPadding": 2, "titleFontSize": 7.5, "titleFontWeight": "normal", "titleColor": "#222222", "titlePadding": 3}},
            "y": {"field": "symbol", "type": "nominal", "axis": {"title": "Symbol", "labelFontSize": 5.5, "labelColor": "#333333", "ticks": false, "domain": false, "labelPadding": 8, "titleFontSize": 7.5, "titleFontWeight": "normal", "titleColor": "#222222", "titlePadding": 4}}
          },
          "layer": [
            {"mark": {"type": "rect", "stroke": "#ffffff", "strokeWidth": 0.5}, "encoding": {"color": {"field": "percent", "type": "quantitative", "scale": {"domain": [0, 100], "range": ["#ffffff", "#ff0000"], "interpolate": "rgb"}, "legend": {"title": "Percent", "orient": "bottom", "direction": "horizontal", "titleOrient": "left", "gradientLength": 52, "gradientThickness": 8, "values": [0, 100], "labelExpr": "datum.value == 100 ? ['100', 'Activate'] : datum.label", "labelFontSize": 4.5, "titleFontSize": 6.5, "titleFontWeight": "normal", "offset": 10}}}},
            {"mark": {"type": "text", "fontSize": 6, "color": "#111111"}, "encoding": {"text": {"field": "percent", "type": "quantitative"}}}
          ]
        }
      ]
    }
  ]
}
